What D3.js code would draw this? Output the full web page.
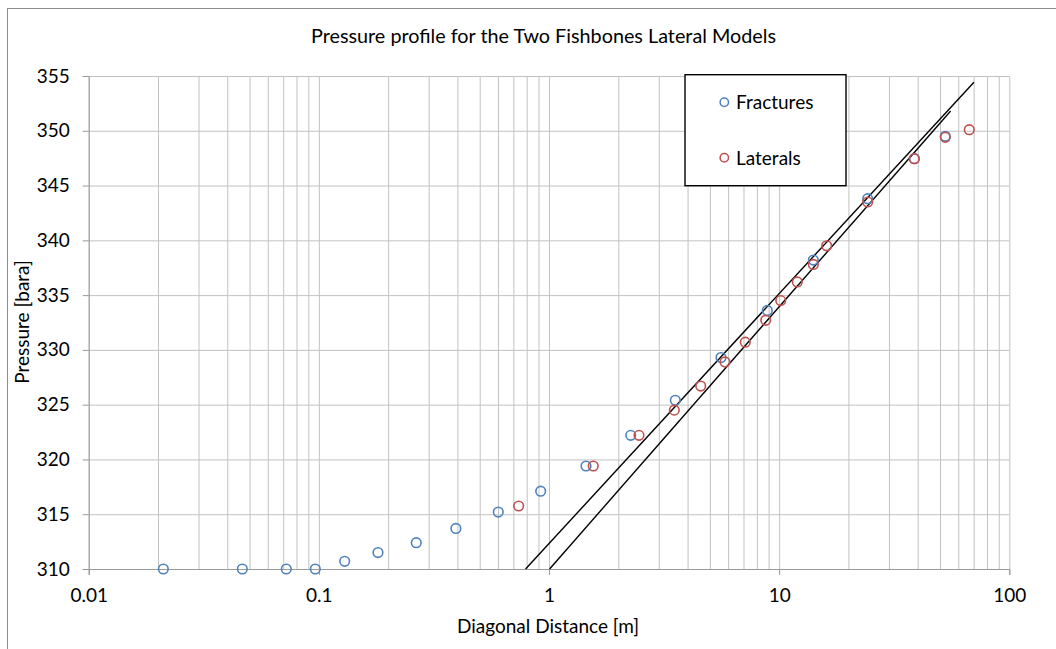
<!DOCTYPE html>
<html>
<head>
<meta charset="utf-8">
<script src="https://cdn.jsdelivr.net/npm/d3@7"></script>
<style>
  html, body { margin: 0; padding: 0; background: #fff; }
  svg { display: block; font-family: Lato, "Open Sans", sans-serif; }
</style>
</head>
<body>
<svg id="chart" width="1056" height="649"></svg>
<script>
// Diagonal distance [m] and pressure [bara] for each model
const fracturesX = [0.0211, 0.0465, 0.0722, 0.0965, 0.1295, 0.1807, 0.265, 0.394, 0.602, 0.920,
                    1.448, 2.265, 3.538, 5.588, 8.883, 14.08, 24.25, 38.66, 52.7];
const fracturesY = [310.0, 310.0, 310.0, 310.0, 310.7, 311.5, 312.4, 313.7, 315.2, 317.1,
                    319.4, 322.2, 325.4, 329.3, 333.6, 338.2, 343.8, 347.45, 349.5];
const lateralsX = [0.738, 1.557, 2.46, 3.503, 4.561, 5.817, 7.126, 8.743, 10.16, 11.99,
                   14.08, 16.09, 24.25, 38.66, 52.7, 67.0];
const lateralsY = [315.75, 319.4, 322.2, 324.5, 326.7, 328.9, 330.7, 332.7, 334.5, 336.2,
                   337.8, 339.5, 343.5, 347.45, 349.4, 350.1];

// Logarithmic trend lines, given by their end points [distance, pressure]
const lateralsTrend = [[0.791, 310], [70.2, 354.43]];
const fracturesTrend = [[1.006, 310], [55.6, 351.81]];

// Axis ticks
const xTickValues = [0.01, 0.1, 1, 10, 100];
const xTickLabels = ["0.01", "0.1", "1", "10", "100"];
const yTickValues = [310, 315, 320, 325, 330, 335, 340, 345, 350, 355];

const seriesNames = ["Fractures", "Laterals"];
const seriesColors = ["#4F81BD", "#C0504D"];

const FONT = 19;

const svg = d3.select("#chart");
const plotLeft = 88.7, plotRight = 1009.3, plotTop = 76, plotBottom = 569;

const x = d3.scaleLog().domain([0.01, 100]).range([plotLeft, plotRight]);
const y = d3.scaleLinear().domain([310, 355]).range([plotBottom, plotTop]);

// chart frame
svg.append("rect")
  .attr("x", 7.5).attr("y", 8.5)
  .attr("width", 1100).attr("height", 700)
  .attr("fill", "none").attr("stroke", "#8e8e8e").attr("stroke-width", 1);

// minor + major vertical gridlines
const minorX = [];
for (let d = -2; d < 2; d++) {
  for (let k = 1; k <= 9; k++) minorX.push(+(k * Math.pow(10, d)).toPrecision(3));
}
minorX.push(100);

svg.append("g")
  .attr("transform", `translate(0,${plotBottom})`)
  .call(d3.axisBottom(x).tickValues(minorX).tickSize(-(plotBottom - plotTop)).tickFormat(""))
  .call(g => g.select(".domain").remove())
  .call(g => g.selectAll(".tick line").attr("stroke", "#c2c2c2").attr("stroke-width", 1));

// horizontal gridlines
svg.append("g")
  .attr("transform", `translate(${plotLeft},0)`)
  .call(d3.axisLeft(y).tickValues(yTickValues).tickSize(-(plotRight - plotLeft)).tickFormat(""))
  .call(g => g.select(".domain").remove())
  .call(g => g.selectAll(".tick line").attr("stroke", "#c2c2c2").attr("stroke-width", 1));

// x axis
svg.append("g")
  .attr("transform", `translate(0,${plotBottom})`)
  .call(d3.axisBottom(x).tickValues(xTickValues).tickSize(6).tickPadding(14)
        .tickFormat((d, i) => xTickLabels[i]))
  .call(g => g.select(".domain").attr("stroke", "#9a9a9a"))
  .call(g => g.selectAll(".tick line").attr("stroke", "#9a9a9a"))
  .call(g => g.selectAll(".tick text").attr("font-size", FONT).attr("fill", "#000")
        .attr("font-family", "Lato, sans-serif"));

// y axis
svg.append("g")
  .attr("transform", `translate(${plotLeft},0)`)
  .call(d3.axisLeft(y).tickValues(yTickValues).tickSize(6).tickPadding(13)
        .tickFormat(d3.format("d")))
  .call(g => g.select(".domain").attr("stroke", "#9a9a9a"))
  .call(g => g.selectAll(".tick line").attr("stroke", "#9a9a9a"))
  .call(g => g.selectAll(".tick text").attr("font-size", FONT).attr("fill", "#000")
        .attr("font-family", "Lato, sans-serif"));

// trend lines
const line = d3.line().x(d => x(d[0])).y(d => y(d[1]));
[lateralsTrend, fracturesTrend].forEach(t => {
  svg.append("path").datum(t)
    .attr("d", line).attr("fill", "none")
    .attr("stroke", "#000").attr("stroke-width", 1.4);
});

// scatter markers
function drawSeries(xs, ys, color) {
  svg.append("g").selectAll("circle")
    .data(xs.map((v, i) => [v, ys[i]]))
    .join("circle")
    .attr("cx", d => x(d[0])).attr("cy", d => y(d[1]))
    .attr("r", 4.8)
    .attr("fill", "none").attr("stroke", color).attr("stroke-width", 1.6);
}
drawSeries(fracturesX, fracturesY, seriesColors[0]);
drawSeries(lateralsX, lateralsY, seriesColors[1]);

// legend
const legend = svg.append("g");
legend.append("rect")
  .attr("x", 685).attr("y", 74.7).attr("width", 161).attr("height", 111)
  .attr("fill", "#fff").attr("stroke", "#000").attr("stroke-width", 1.4);
seriesNames.forEach((name, i) => {
  const cy = 102.3 + i * 55.4;
  legend.append("circle")
    .attr("cx", 724.3).attr("cy", cy).attr("r", 4.2)
    .attr("fill", "none").attr("stroke", seriesColors[i]).attr("stroke-width", 1.5);
  legend.append("text")
    .attr("x", 736).attr("y", cy + 7)
    .attr("font-size", FONT).attr("fill", "#000")
    .text(name);
});

// titles
svg.append("text")
  .attr("x", 543.5).attr("y", 43).attr("text-anchor", "middle")
  .attr("font-size", 19.8).attr("fill", "#000")
  .text("Pressure profile for the Two Fishbones Lateral Models");

svg.append("text")
  .attr("x", 548).attr("y", 633).attr("text-anchor", "middle")
  .attr("font-size", FONT).attr("fill", "#000")
  .text("Diagonal Distance [m]");

svg.append("text")
  .attr("transform", "translate(29,322) rotate(-90)")
  .attr("text-anchor", "middle")
  .attr("font-size", FONT).attr("fill", "#000")
  .text("Pressure [bara]");
</script>
</body>
</html>
